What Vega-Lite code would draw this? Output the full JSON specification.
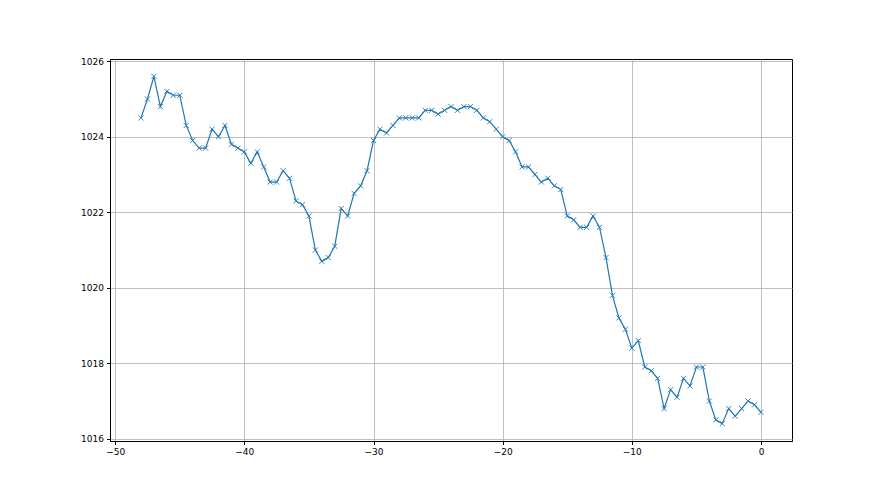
{
  "$schema": "https://vega.github.io/schema/vega-lite/v6.json",
  "width": 682,
  "height": 382,
  "padding": {"left": 110, "top": 59, "right": 88, "bottom": 54},
  "autosize": {"type": "none"},
  "background": "white",
  "config": {
    "view": {"stroke": "#000000", "strokeWidth": 1},
    "axis": {
      "labelFont": "DejaVu Sans",
      "labelFontSize": 9,
      "labelColor": "#000000",
      "domainColor": "#000000",
      "domainWidth": 1,
      "tickColor": "#000000",
      "tickSize": 3.5,
      "gridColor": "#b0b0b0",
      "gridWidth": 0.8,
      "title": null,
      "labelPadding": 3
    }
  },
  "data": {
    "values": [
      {"x": -48, "y": 1024.5}, {"x": -47.5, "y": 1025.0}, {"x": -47, "y": 1025.6}, {"x": -46.5, "y": 1024.8},
      {"x": -46, "y": 1025.2}, {"x": -45.5, "y": 1025.1}, {"x": -45, "y": 1025.1}, {"x": -44.5, "y": 1024.3},
      {"x": -44, "y": 1023.9}, {"x": -43.5, "y": 1023.7}, {"x": -43, "y": 1023.7}, {"x": -42.5, "y": 1024.2},
      {"x": -42, "y": 1024.0}, {"x": -41.5, "y": 1024.3}, {"x": -41, "y": 1023.8}, {"x": -40.5, "y": 1023.7},
      {"x": -40, "y": 1023.6}, {"x": -39.5, "y": 1023.3}, {"x": -39, "y": 1023.6}, {"x": -38.5, "y": 1023.2},
      {"x": -38, "y": 1022.8}, {"x": -37.5, "y": 1022.8}, {"x": -37, "y": 1023.1}, {"x": -36.5, "y": 1022.9},
      {"x": -36, "y": 1022.3}, {"x": -35.5, "y": 1022.2}, {"x": -35, "y": 1021.9}, {"x": -34.5, "y": 1021.0},
      {"x": -34, "y": 1020.7}, {"x": -33.5, "y": 1020.8}, {"x": -33, "y": 1021.1}, {"x": -32.5, "y": 1022.1},
      {"x": -32, "y": 1021.9}, {"x": -31.5, "y": 1022.5}, {"x": -31, "y": 1022.7}, {"x": -30.5, "y": 1023.1},
      {"x": -30, "y": 1023.9}, {"x": -29.5, "y": 1024.2}, {"x": -29, "y": 1024.1}, {"x": -28.5, "y": 1024.3},
      {"x": -28, "y": 1024.5}, {"x": -27.5, "y": 1024.5}, {"x": -27, "y": 1024.5}, {"x": -26.5, "y": 1024.5},
      {"x": -26, "y": 1024.7}, {"x": -25.5, "y": 1024.7}, {"x": -25, "y": 1024.6}, {"x": -24.5, "y": 1024.7},
      {"x": -24, "y": 1024.8}, {"x": -23.5, "y": 1024.7}, {"x": -23, "y": 1024.8}, {"x": -22.5, "y": 1024.8},
      {"x": -22, "y": 1024.7}, {"x": -21.5, "y": 1024.5}, {"x": -21, "y": 1024.4}, {"x": -20.5, "y": 1024.2},
      {"x": -20, "y": 1024.0}, {"x": -19.5, "y": 1023.9}, {"x": -19, "y": 1023.6}, {"x": -18.5, "y": 1023.2},
      {"x": -18, "y": 1023.2}, {"x": -17.5, "y": 1023.0}, {"x": -17, "y": 1022.8}, {"x": -16.5, "y": 1022.9},
      {"x": -16, "y": 1022.7}, {"x": -15.5, "y": 1022.6}, {"x": -15, "y": 1021.9}, {"x": -14.5, "y": 1021.8},
      {"x": -14, "y": 1021.6}, {"x": -13.5, "y": 1021.6}, {"x": -13, "y": 1021.9}, {"x": -12.5, "y": 1021.6},
      {"x": -12, "y": 1020.8}, {"x": -11.5, "y": 1019.8}, {"x": -11, "y": 1019.2}, {"x": -10.5, "y": 1018.9},
      {"x": -10, "y": 1018.4}, {"x": -9.5, "y": 1018.6}, {"x": -9, "y": 1017.9}, {"x": -8.5, "y": 1017.8},
      {"x": -8, "y": 1017.6}, {"x": -7.5, "y": 1016.8}, {"x": -7, "y": 1017.3}, {"x": -6.5, "y": 1017.1},
      {"x": -6, "y": 1017.6}, {"x": -5.5, "y": 1017.4}, {"x": -5, "y": 1017.9}, {"x": -4.5, "y": 1017.9},
      {"x": -4, "y": 1017.0}, {"x": -3.5, "y": 1016.5}, {"x": -3, "y": 1016.4}, {"x": -2.5, "y": 1016.8},
      {"x": -2, "y": 1016.6}, {"x": -1.5, "y": 1016.8}, {"x": -1, "y": 1017.0}, {"x": -0.5, "y": 1016.9},
      {"x": 0, "y": 1016.7}
    ]
  },
  "encoding": {
    "x": {
      "field": "x", "type": "quantitative",
      "scale": {"domain": [-50.4, 2.4], "nice": false, "zero": false},
      "axis": {"values": [-50, -40, -30, -20, -10, 0], "grid": true, "format": "d"}
    },
    "y": {
      "field": "y", "type": "quantitative",
      "scale": {"domain": [1015.94, 1026.06], "nice": false, "zero": false},
      "axis": {"values": [1016, 1018, 1020, 1022, 1024, 1026], "grid": true, "format": "d"}
    }
  },
  "layer": [
    {"mark": {"type": "line", "color": "#1f77b4", "strokeWidth": 1.2, "clip": true}},
    {"mark": {"type": "point", "shape": "M-1,-1L1,1M1,-1L-1,1", "filled": false, "stroke": "#1f77b4", "strokeWidth": 0.9, "size": 26, "opacity": 1}}
  ]
}
